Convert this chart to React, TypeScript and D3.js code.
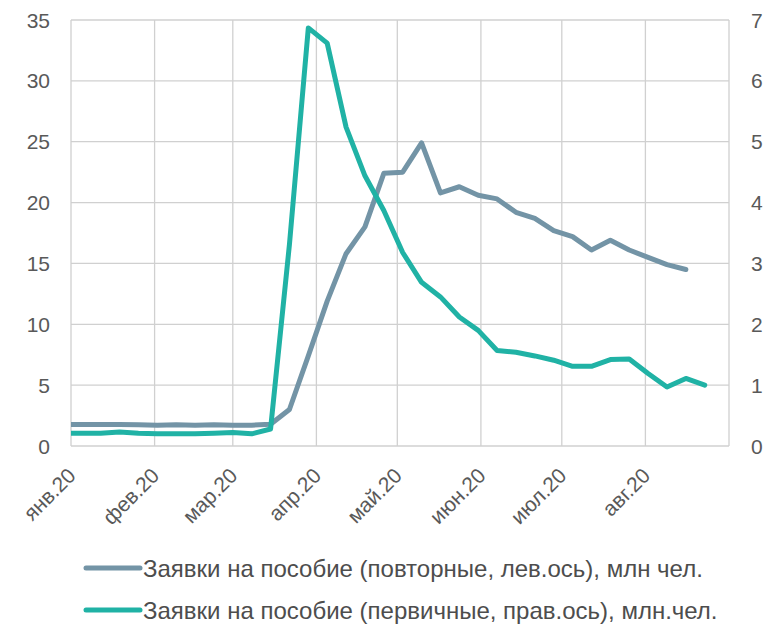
import React from "react";
import * as d3 from "d3";

const weekDates = [
  "2019-12-29", "2020-01-05", "2020-01-12", "2020-01-19", "2020-01-26",
  "2020-02-02", "2020-02-09", "2020-02-16", "2020-02-23", "2020-03-01",
  "2020-03-08", "2020-03-15", "2020-03-22", "2020-03-29", "2020-04-05",
  "2020-04-12", "2020-04-19", "2020-04-26", "2020-05-03", "2020-05-10",
  "2020-05-17", "2020-05-24", "2020-05-31", "2020-06-07", "2020-06-14",
  "2020-06-21", "2020-06-28", "2020-07-05", "2020-07-12", "2020-07-19",
  "2020-07-26", "2020-08-02", "2020-08-09", "2020-08-16", "2020-08-23",
];

// continuing claims, mln (left axis)
const continuing = [
  1.76, 1.76, 1.76, 1.77, 1.75, 1.70, 1.74, 1.70, 1.74, 1.70,
  1.71, 1.78, 3.0, 7.4, 11.9, 15.8, 18.0, 22.4, 22.5, 24.9,
  20.8, 21.3, 20.6, 20.3, 19.2, 18.7, 17.7, 17.2, 16.1, 16.9,
  16.1, 15.5, 14.9, 14.5,
];

// initial claims, mln (right axis)
const initial = [
  0.21, 0.21, 0.21, 0.23, 0.21, 0.20, 0.20, 0.20, 0.21, 0.22,
  0.20, 0.28, 3.31, 6.87, 6.62, 5.24, 4.44, 3.87, 3.18, 2.69,
  2.45, 2.12, 1.90, 1.57, 1.54, 1.48, 1.41, 1.31, 1.31, 1.42,
  1.43, 1.19, 0.97, 1.11, 1.00,
];

const monthStarts = [
  "2020-01-01", "2020-02-01", "2020-03-01", "2020-04-01", "2020-05-01",
  "2020-06-01", "2020-07-01", "2020-08-01", "2020-09-01",
];
const monthLabels = ["янв.20", "фев.20", "мар.20", "апр.20", "май.20", "июн.20", "июл.20", "авг.20"];
const leftTicks = [0, 5, 10, 15, 20, 25, 30, 35];
const rightTicks = [0, 1, 2, 3, 4, 5, 6, 7];
const legendLabels = [
  "Заявки на пособие (повторные, лев.ось), млн чел.",
  "Заявки на пособие (первичные, прав.ось), млн.чел.",
];

const W = 769, H = 627;
const plot = { left: 71, right: 729, top: 20, bottom: 446 };
const GRAY = "#7394a6";
const TEAL = "#20b2a5";
const GRID = "#d0d0d0";
const TXT = "#595959";
const LEG = "#4d4d4d";
const FONT = "'Liberation Sans', Arial, sans-serif";

const parse = d3.utcParse("%Y-%m-%d");

export default function App() {
  const x = d3.scaleUtc()
    .domain([parse(monthStarts[0])!, parse(monthStarts[monthStarts.length - 1])!])
    .range([plot.left, plot.right]);
  const yL = d3.scaleLinear().domain([0, 35]).range([plot.bottom, plot.top]);
  const yR = d3.scaleLinear().domain([0, 7]).range([plot.bottom, plot.top]);

  const contData = continuing.map((v, i) => ({ d: parse(weekDates[i])!, v }));
  const initData = initial.map((v, i) => ({ d: parse(weekDates[i])!, v }));

  const lineL = d3.line<{ d: Date; v: number }>().x((p) => x(p.d)).y((p) => yL(p.v));
  const lineR = d3.line<{ d: Date; v: number }>().x((p) => x(p.d)).y((p) => yR(p.v));

  return (
    <svg width={W} height={H} style={{ position: "absolute", left: 0, top: 0, background: "#fff" }}
      fontFamily={FONT}>
      <defs>
        <clipPath id="plotClip">
          <rect x={plot.left} y={plot.top - 10} width={plot.right - plot.left} height={plot.bottom - plot.top + 20} />
        </clipPath>
      </defs>
      {/* horizontal grid */}
      {leftTicks.map((t) => (
        <line key={"h" + t} x1={plot.left} x2={plot.right} y1={yL(t)} y2={yL(t)} stroke={GRID} strokeWidth={1.3} />
      ))}
      {/* vertical grid */}
      {monthStarts.map((m) => (
        <line key={"v" + m} x1={x(parse(m)!)} x2={x(parse(m)!)} y1={plot.top} y2={plot.bottom} stroke={GRID} strokeWidth={1.3} />
      ))}
      {/* left tick labels */}
      {leftTicks.map((t) => (
        <text key={"l" + t} x={50} y={yL(t)} dy="0.36em" textAnchor="end" fontSize={21} fill={TXT}>{t}</text>
      ))}
      {/* right tick labels */}
      {rightTicks.map((t) => (
        <text key={"r" + t} x={751} y={yR(t)} dy="0.36em" textAnchor="start" fontSize={21} fill={TXT}>{t}</text>
      ))}
      {/* x labels */}
      {monthLabels.map((lab, i) => {
        const gx = x(parse(monthStarts[i])!) + 6;
        const gy = 477;
        return (
          <text key={"x" + lab} x={gx} y={gy} textAnchor="end" fontSize={21} fill={TXT}
            transform={`rotate(-45 ${gx} ${gy})`}>{lab}</text>
        );
      })}
      {/* lines */}
      <g clipPath="url(#plotClip)">
        <path d={lineL(contData) || ""} fill="none" stroke={GRAY} strokeWidth={5} strokeLinejoin="round" strokeLinecap="round" />
        <path d={lineR(initData) || ""} fill="none" stroke={TEAL} strokeWidth={5} strokeLinejoin="round" strokeLinecap="round" />
      </g>
      {/* legend */}
      {[GRAY, TEAL].map((c, i) => (
        <g key={"lg" + i} transform={`translate(0, ${568 + i * 42})`}>
          <line x1={86} x2={140} y1={0} y2={0} stroke={c} strokeWidth={5} strokeLinecap="round" />
          <text x={143} y={0} dy="0.36em" fontSize={24} fill={LEG}>{legendLabels[i]}</text>
        </g>
      ))}
    </svg>
  );
}
